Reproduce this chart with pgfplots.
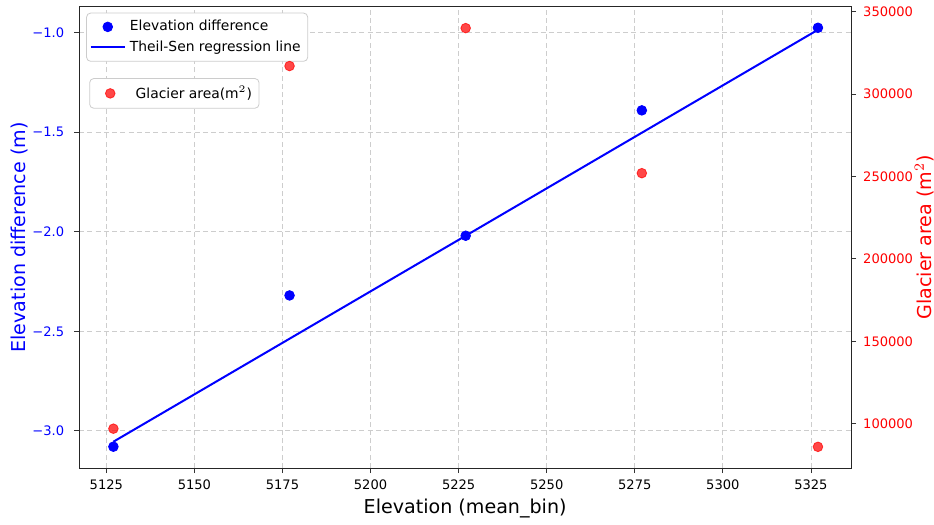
\documentclass[border=0pt]{standalone}
\usepackage{fontspec}
\setmainfont{DejaVu Sans}
\usepackage{pgfplots}
\pgfplotsset{compat=1.18}
\definecolor{mplred}{RGB}{255,0,0}
\definecolor{gridgray}{RGB}{205,205,205}
\definecolor{legedge}{RGB}{204,204,204}
\begin{document}
\begin{tikzpicture}
\pgfplotsset{
  common/.style={
    scale only axis,
    width=384pt, height=229.5pt,
    xmin=5117.3, xmax=5336.4,
    tick align=outside,
    major tick length=2.5pt,
    tick style={line width=0.4pt, black!80},
    axis line style={line width=0.45pt, black!85},
    tick label style={font=\fontsize{6.5}{7.5}\selectfont},
    label style={font=\fontsize{9.5}{11}\selectfont},
    /pgf/number format/assume math mode=true,
    legend style={font=\fontsize{6.9}{8}\selectfont, draw=legedge, rounded corners=2pt, line width=0.4pt, inner sep=1.5pt, row sep=-0.5pt},
    legend cell align=left,
  }
}
\begin{axis}[common,
  ymin=-3.187, ymax=-0.869,
  xtick={5125,5150,5175,5200,5225,5250,5275,5300,5325},
  xticklabels={5125,5150,5175,5200,5225,5250,5275,5300,5325},
  ytick={-3.0,-2.5,-2.0,-1.5,-1.0},
  yticklabels={−3.0,−2.5,−2.0,−1.5,−1.0},
  xtick pos=bottom, ytick pos=left,
  yticklabel style={text=blue, xshift=-1.5pt},
  grid=major,
  major grid style={dash pattern=on 2.5pt off 1.6pt, gridgray, line width=0.35pt},
  xlabel={Elevation (mean\_bin)},
  ylabel={Elevation difference (m)},
  ylabel style={text=blue, inner sep=5.3pt, yshift=-6.5pt},
  xlabel style={yshift=2.5pt},
  legend style={at={(rel axis cs:0.009,0.987)}, anchor=north west},
]
\addplot[only marks, mark=*, mark size=2.4pt, blue, mark options={draw=blue, fill=blue}]
  coordinates {(5127,-3.08) (5177,-2.32) (5227,-2.02) (5277,-1.39) (5327,-0.975)};
\addlegendentry{Elevation difference}
\addplot[blue, line width=1pt] coordinates {(5127,-3.055) (5327,-0.985)};
\addlegendentry{Theil-Sen regression line}
\end{axis}
\begin{axis}[common,
  ymin=73170, ymax=353000,
  axis x line=none,
  axis y line*=right,
  ytick={100000,150000,200000,250000,300000,350000},
  scaled y ticks=false,
  yticklabel style={text=mplred, /pgf/number format/.cd, fixed, 1000 sep={}},
  ylabel={Glacier area (m$^2$)},
  ylabel style={text=mplred, inner sep=0pt, yshift=2.7pt},
  legend style={at={(rel axis cs:0.013,0.845)}, anchor=north west},
]
\addplot[only marks, mark=*, mark size=2.4pt, mark options={draw=red, fill=red, opacity=0.72},
  legend image code/.code={\path (0cm,0cm) (0.6cm,0cm); \draw[mark=*, mark size=2.4pt, mark options={draw=red, fill=red, opacity=0.72}] plot coordinates {(0.3cm,0cm)};}]
  coordinates {(5127,97000) (5177,317000) (5227,340000) (5277,252000) (5327,86000)};
\addlegendentry{\;Glacier area(m$^2$)}
\end{axis}
\end{tikzpicture}
\end{document}
